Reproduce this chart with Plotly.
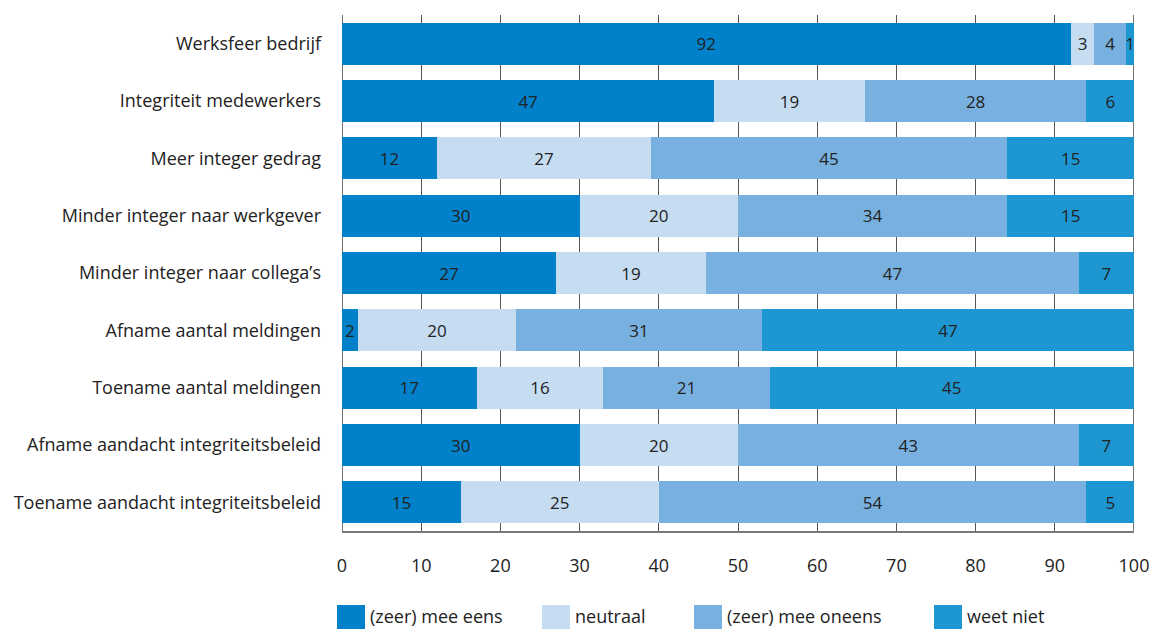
import plotly.graph_objects as go

categories = [
    "Werksfeer bedrijf",
    "Integriteit medewerkers",
    "Meer integer gedrag",
    "Minder integer naar werkgever",
    "Minder integer naar collega’s",
    "Afname aantal meldingen",
    "Toename aantal meldingen",
    "Afname aandacht integriteitsbeleid",
    "Toename aandacht integriteitsbeleid",
]
# segment lengths as drawn (bars always fill to 100)
mee_eens = [92, 47, 12, 30, 27, 2, 17, 30, 15]
neutraal = [3, 19, 27, 20, 19, 20, 16, 20, 25]
mee_oneens = [4, 28, 45, 34, 47, 31, 21, 43, 54]
weet_niet = [1, 6, 16, 16, 7, 47, 46, 7, 6]
# printed labels (rounded percentages)
label_mee_eens = [92, 47, 12, 30, 27, 2, 17, 30, 15]
label_neutraal = [3, 19, 27, 20, 19, 20, 16, 20, 25]
label_mee_oneens = [4, 28, 45, 34, 47, 31, 21, 43, 54]
label_weet_niet = [1, 6, 15, 15, 7, 47, 45, 7, 5]
x_ticks = [0, 10, 20, 30, 40, 50, 60, 70, 80, 90, 100]

series = [
    ("(zeer) mee eens", mee_eens, label_mee_eens, "#0081C9"),
    ("neutraal", neutraal, label_neutraal, "#C6DCF0"),
    ("(zeer) mee oneens", mee_oneens, label_mee_oneens, "#78B1DF"),
    ("weet niet", weet_niet, label_weet_niet, "#1E96D2"),
]

font = "Open Sans"
txt_col = "#222222"
fig = go.Figure()
for name, vals, labels, col in series:
    fig.add_trace(go.Bar(
        y=categories, x=vals, name=name, orientation="h",
        marker=dict(color=col, line=dict(width=0)),
        text=[str(v) for v in labels], textposition="inside",
        insidetextanchor="middle", constraintext="none",
        textfont=dict(family=font, size=17, color=txt_col),
        cliponaxis=False, showlegend=False, hoverinfo="skip",
    ))

# plot area in pixels: x 342..1134, y 15..531
L, R, T, B = 342, 1134, 15, 531
W, H = R - L, B - T


def px(xp):
    return (xp - L) / W


def py(yp):
    return (B - yp) / H


fig.update_layout(
    barmode="stack",
    bargap=0.27,
    width=1151, height=629,
    margin=dict(l=L, r=1151 - R, t=T, b=629 - B),
    paper_bgcolor="white", plot_bgcolor="white",
    font=dict(family=font, size=18, color=txt_col),
    showlegend=False,
    xaxis=dict(range=[0, 100], tickvals=x_ticks, showgrid=True, gridcolor="#555555",
               gridwidth=1, showline=True, linecolor="#7a7a7a", linewidth=2,
               ticks="", zeroline=False, tickfont=dict(size=18, color=txt_col),
               ticklabelstandoff=17, automargin=False, fixedrange=True),
    yaxis=dict(categoryorder="array", categoryarray=categories,
               range=[8.5, -0.5], ticks="", showline=False, showgrid=False,
               ticklabelstandoff=20, automargin=False, fixedrange=True,
               tickfont=dict(size=18, color=txt_col)),
)
for xv in (0, 100):
    fig.add_shape(type="line", xref="x", yref="paper", x0=xv, x1=xv, y0=0, y1=1,
                  line=dict(color="#444444", width=1.5), layer="below")

# legend (manual, large square swatches)
legend_swatch_x = [337, 542, 694, 934]
for (name, _, _, col), sx in zip(series, legend_swatch_x):
    fig.add_shape(type="rect", xref="paper", yref="paper",
                  x0=px(sx), x1=px(sx + 28), y0=py(605), y1=py(629),
                  fillcolor=col, line=dict(width=0))
    fig.add_annotation(xref="paper", yref="paper", x=px(sx + 31), y=py(616),
                       text=name, showarrow=False, xanchor="left", yanchor="middle",
                       font=dict(family=font, size=18, color=txt_col))

fig.write_html(
    "out.html",
    config={"displayModeBar": False},
    post_script="document.body.style.margin='0';document.body.style.overflow='hidden';",
)
